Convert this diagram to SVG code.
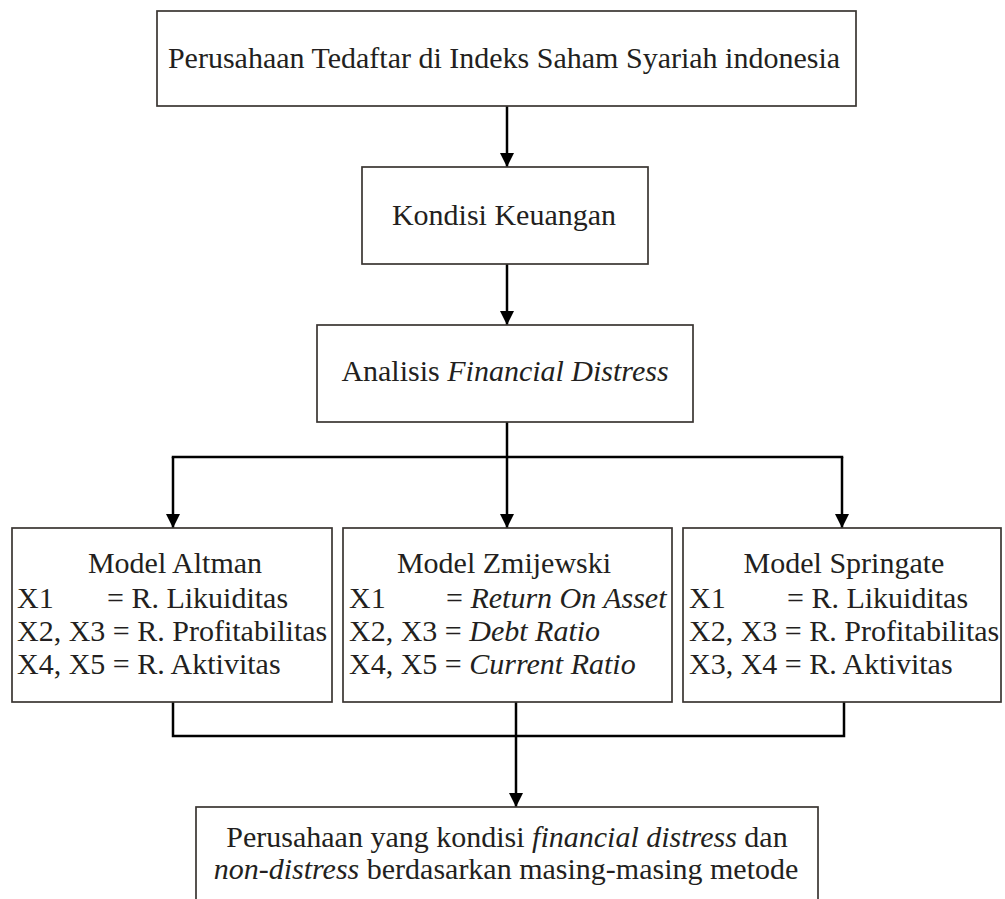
<svg xmlns="http://www.w3.org/2000/svg" width="1005" height="899" viewBox="0 0 1005 899">
  <defs>
    <marker id="arr" markerUnits="userSpaceOnUse" markerWidth="16" markerHeight="16" refX="14" refY="7" orient="auto">
      <path d="M0,0 L14,7 L0,14 Z" fill="#000"/>
    </marker>
    <style>
      .box { fill: #fff; stroke: #3a3532; stroke-width: 1.7; }
      .conn { fill: none; stroke: #000; stroke-width: 2.5; }
      text { font-family: "Liberation Serif", "Times New Roman", serif; font-size: 30px; fill: #231f20; }
      .c { text-anchor: middle; }
      .i { font-style: italic; }
    </style>
  </defs>
  <rect width="1005" height="899" fill="#fff"/>

  <g id="connectors">
    <line class="conn" x1="507" y1="106" x2="507" y2="167" marker-end="url(#arr)"/>
    <line class="conn" x1="507" y1="264" x2="507" y2="325" marker-end="url(#arr)"/>
    <line class="conn" x1="507" y1="422" x2="507" y2="528" marker-end="url(#arr)"/>
    <line class="conn" x1="171.75" y1="457" x2="843.25" y2="457"/>
    <line class="conn" x1="173" y1="457" x2="173" y2="528" marker-end="url(#arr)"/>
    <line class="conn" x1="842" y1="457" x2="842" y2="528" marker-end="url(#arr)"/>
    <polyline class="conn" points="173,702 173,736 844,736 844,702"/>
    <line class="conn" x1="516" y1="702" x2="516" y2="807" marker-end="url(#arr)"/>
  </g>

  <g id="node-top">
    <rect class="box" x="157" y="11" width="699" height="95"/>
    <text class="c" x="504" y="68">Perusahaan Tedaftar di Indeks Saham Syariah indonesia</text>
  </g>

  <g id="node-kondisi">
    <rect class="box" x="362" y="167" width="286" height="97"/>
    <text class="c" x="504" y="225">Kondisi Keuangan</text>
  </g>

  <g id="node-analisis">
    <rect class="box" x="317" y="325" width="376" height="97"/>
    <text class="c" x="505" y="381">Analisis <tspan class="i">Financial Distress</tspan></text>
  </g>

  <g id="node-altman">
    <rect class="box" x="12" y="528" width="320" height="174"/>
    <text class="c" x="175" y="573">Model Altman</text>
    <text x="17" y="608">X1<tspan x="107">= R. Likuiditas</tspan></text>
    <text x="17" y="641">X2, X3 = R. Profitabilitas</text>
    <text x="17" y="674">X4, X5 = R. Aktivitas</text>
  </g>

  <g id="node-zmijewski">
    <rect class="box" x="343" y="528" width="329" height="174"/>
    <text class="c" x="504" y="573">Model Zmijewski</text>
    <text x="349" y="608">X1<tspan x="446">= <tspan class="i">Return On Asset</tspan></tspan></text>
    <text x="349" y="641">X2, X3 = <tspan class="i">Debt Ratio</tspan></text>
    <text x="349" y="674">X4, X5 = <tspan class="i">Current Ratio</tspan></text>
  </g>

  <g id="node-springate">
    <rect class="box" x="683" y="528" width="318" height="174"/>
    <text class="c" x="844" y="573">Model Springate</text>
    <text x="689" y="608">X1<tspan x="787">= R. Likuiditas</tspan></text>
    <text x="689" y="641">X2, X3 = R. Profitabilitas</text>
    <text x="689" y="674">X3, X4 = R. Aktivitas</text>
  </g>

  <g id="node-result">
    <rect class="box" x="196" y="807" width="622" height="130"/>
    <text class="c" x="507" y="847">Perusahaan yang kondisi <tspan class="i">financial distress</tspan> dan</text>
    <text class="c" x="506" y="879"><tspan class="i">non-distress</tspan> berdasarkan masing-masing metode</text>
  </g>
</svg>
